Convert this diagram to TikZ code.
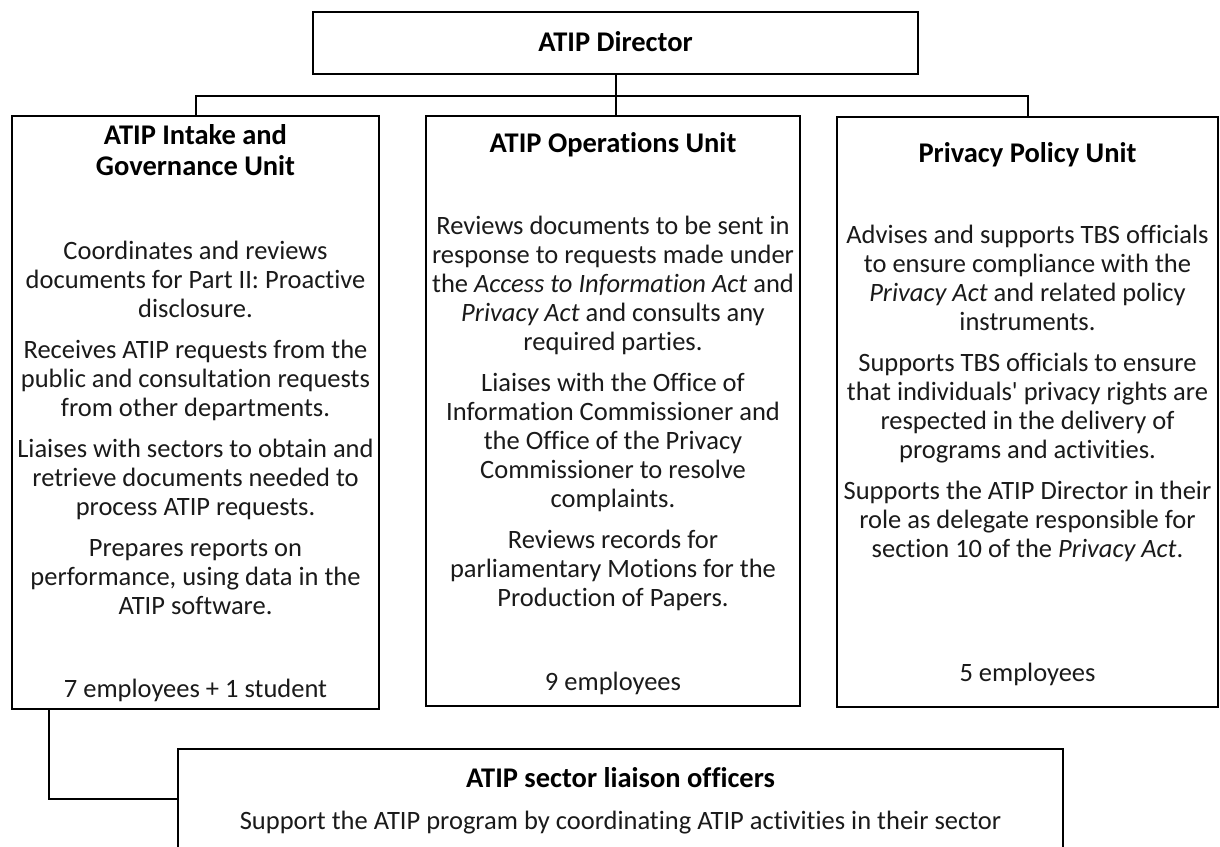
\documentclass[tikz,border=0pt]{standalone}
\usepackage{fontspec}
\setmainfont{Carlito}[Ligatures={NoCommon}]
\definecolor{c1a1a1a}{RGB}{26,26,26}

\begin{document}
\begin{tikzpicture}[y=1pt, x=1pt, yscale=-1, inner sep=0pt, outer sep=0pt,
  unitbox/.style={draw=black, line width=2.2pt},
  link/.style={draw=black, line width=2pt, line join=miter},
  headtext/.style={align=center, font=\fontsize{28.5}{31}\selectfont\bfseries},
  bodytext/.style={align=center, text=c1a1a1a, font=\fontsize{26.5}{29}\selectfont}]
  \path[fill=white] (0,0) rectangle (1220,846);
  \useasboundingbox (0,0) rectangle (1220,846);

  % boxes
  \path (615.5,43) node[unitbox, minimum width=605pt, minimum height=62pt] (director) {};
  \path (195.5,412.5) node[unitbox, minimum width=367pt, minimum height=593pt] (intake) {};
  \path (613,411) node[unitbox, minimum width=374pt, minimum height=590pt] (operations) {};
  \path (1027.5,412) node[unitbox, minimum width=381pt, minimum height=590pt] (privacy) {};
  \path (620.5,799) node[unitbox, minimum width=885pt, minimum height=100pt] (liaison) {};

  % connectors
  \coordinate (bus) at (0,96);
  \path[link] (intake.north) -- (intake.north |- bus) -- (privacy.north |- bus) --
    (privacy.north);
  \path[link] (director.south) -- (director.south |- operations.north);
  \path[link] ([xshift=37pt]intake.south west) |- (liaison.west);

  % texts
  \path (615.5,32) node[headtext, anchor=north] (text-director) {ATIP Director};
  \path (195.5,124) node[headtext, anchor=north] (text-intake) {ATIP Intake and\\Governance Unit};
  \path (613,132) node[headtext, anchor=north] (text-operations) {ATIP Operations Unit};
  \path (1027.5,142) node[headtext, anchor=north] (text-privacy) {Privacy Policy Unit};
  \path (620.5,767) node[headtext, anchor=north] (text-liaison) {ATIP sector liaison officers};

  \path (195.5,241) node[bodytext, anchor=north] (text-intake-duties) {Coordinates and reviews\\
    documents for Part II: Proactive\\disclosure.\\[12pt]
    Receives ATIP requests from the\\public and consultation requests\\
    from other departments.\\[12pt]
    Liaises with sectors to obtain and\\retrieve documents needed to\\
    process ATIP requests.\\[12pt]
    Prepares reports on\\performance, using data in the\\ATIP software.};
  \path (613,216) node[bodytext, anchor=north] (text-operations-duties) {Reviews documents to be sent in\\
    response to requests made under\\the \textit{Access to Information Act} and\\
    \textit{Privacy Act} and consults any\\required parties.\\[12pt]
    Liaises with the Office of\\Information Commissioner and\\
    the Office of the Privacy\\Commissioner to resolve\\complaints.\\[12pt]
    Reviews records for\\parliamentary Motions for the\\Production of Papers.};
  \path (1027.5,225) node[bodytext, anchor=north] (text-privacy-duties) {Advises and supports TBS officials\\
    to ensure compliance with the\\\textit{Privacy Act} and related policy\\instruments.\\[12pt]
    Supports TBS officials to ensure\\that individuals\textquotesingle{} privacy rights are\\
    respected in the delivery of\\programs and activities.\\[12pt]
    Supports the ATIP Director in their\\role as delegate responsible for\\
    section 10 of the \textit{Privacy Act}.};
  \path (620.5,811) node[bodytext, anchor=north] (text-liaison-duties)
    {Support the ATIP program by coordinating ATIP activities in their sector};

  \path (195.5,679) node[bodytext, anchor=north] (text-intake-staff) {7 employees + 1 student};
  \path (613,672) node[bodytext, anchor=north] (text-operations-staff) {9 employees};
  \path (1027.5,663) node[bodytext, anchor=north] (text-privacy-staff) {5 employees};
\end{tikzpicture}
\end{document}
